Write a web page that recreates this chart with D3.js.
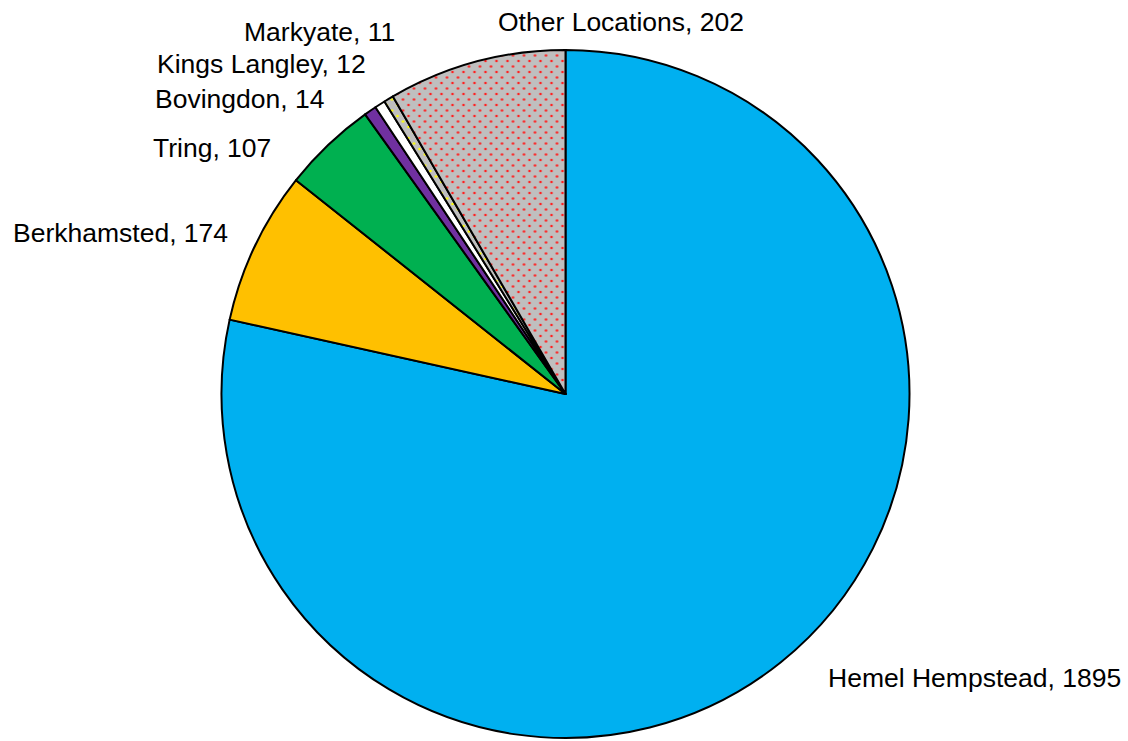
<!DOCTYPE html>
<html>
<head>
<meta charset="utf-8">
<script src="https://cdn.jsdelivr.net/npm/d3@7"></script>
<style>
    body { margin: 0; background: #fff; }
    svg { display: block; }
    text { font-family: "Liberation Sans", Arial, sans-serif; font-size: 26.5px; fill: #000; }
</style>
</head>
<body>
<div id="chart"></div>
<script>
// slice data, clockwise from 12 o'clock
var locations = ["Hemel Hempstead", "Berkhamsted", "Tring", "Bovingdon", "Kings Langley", "Markyate", "Other Locations"];
var counts = [1895, 174, 107, 14, 12, 11, 202];
var fills = ["#00B0F0", "#FFC000", "#00B050", "#7030A0", "#FFFFFF", "url(#dotsYellow)", "url(#dotsRed)"];

// label placement (text layout, start-anchored), same order as locations
var labelX = [828, 13, 153, 155, 157, 244, 498];
var labelY = [687, 242, 157, 108, 73, 41, 31];

var width = 1128, height = 741;
var cx = 565.5, cy = 394, radius = 344;

var svg = d3.select("#chart").append("svg")
    .attr("width", width).attr("height", height);

var defs = svg.append("defs");

function addDots(id, dotColor) {
    var p = defs.append("pattern").attr("id", id)
        .attr("patternUnits", "userSpaceOnUse")
        .attr("width", 11).attr("height", 11);
    p.append("rect").attr("width", 11).attr("height", 11).attr("fill", "#BFBFBF");
    p.append("circle").attr("cx", 2.5).attr("cy", 2.5).attr("r", 1.3).attr("fill", dotColor);
    p.append("circle").attr("cx", 8).attr("cy", 8).attr("r", 1.3).attr("fill", dotColor);
}
addDots("dotsRed", "#FF2020");
addDots("dotsYellow", "#FFFF00");

var pie = d3.pie().sort(null).value(function (d) { return d; });
var arc = d3.arc().innerRadius(0).outerRadius(radius);

var g = svg.append("g").attr("transform", "translate(" + cx + "," + cy + ")");

g.selectAll("path.slice")
    .data(pie(counts))
    .enter().append("path")
    .attr("class", "slice")
    .attr("d", arc)
    .attr("fill", function (d, i) { return fills[i]; })
    .attr("stroke", "#000")
    .attr("stroke-width", 2)
    .attr("stroke-linejoin", "round");

svg.selectAll("text.label")
    .data(locations)
    .enter().append("text")
    .attr("class", "label")
    .attr("x", function (d, i) { return labelX[i]; })
    .attr("y", function (d, i) { return labelY[i]; })
    .text(function (d, i) { return d + ", " + counts[i]; });
</script>
</body>
</html>
